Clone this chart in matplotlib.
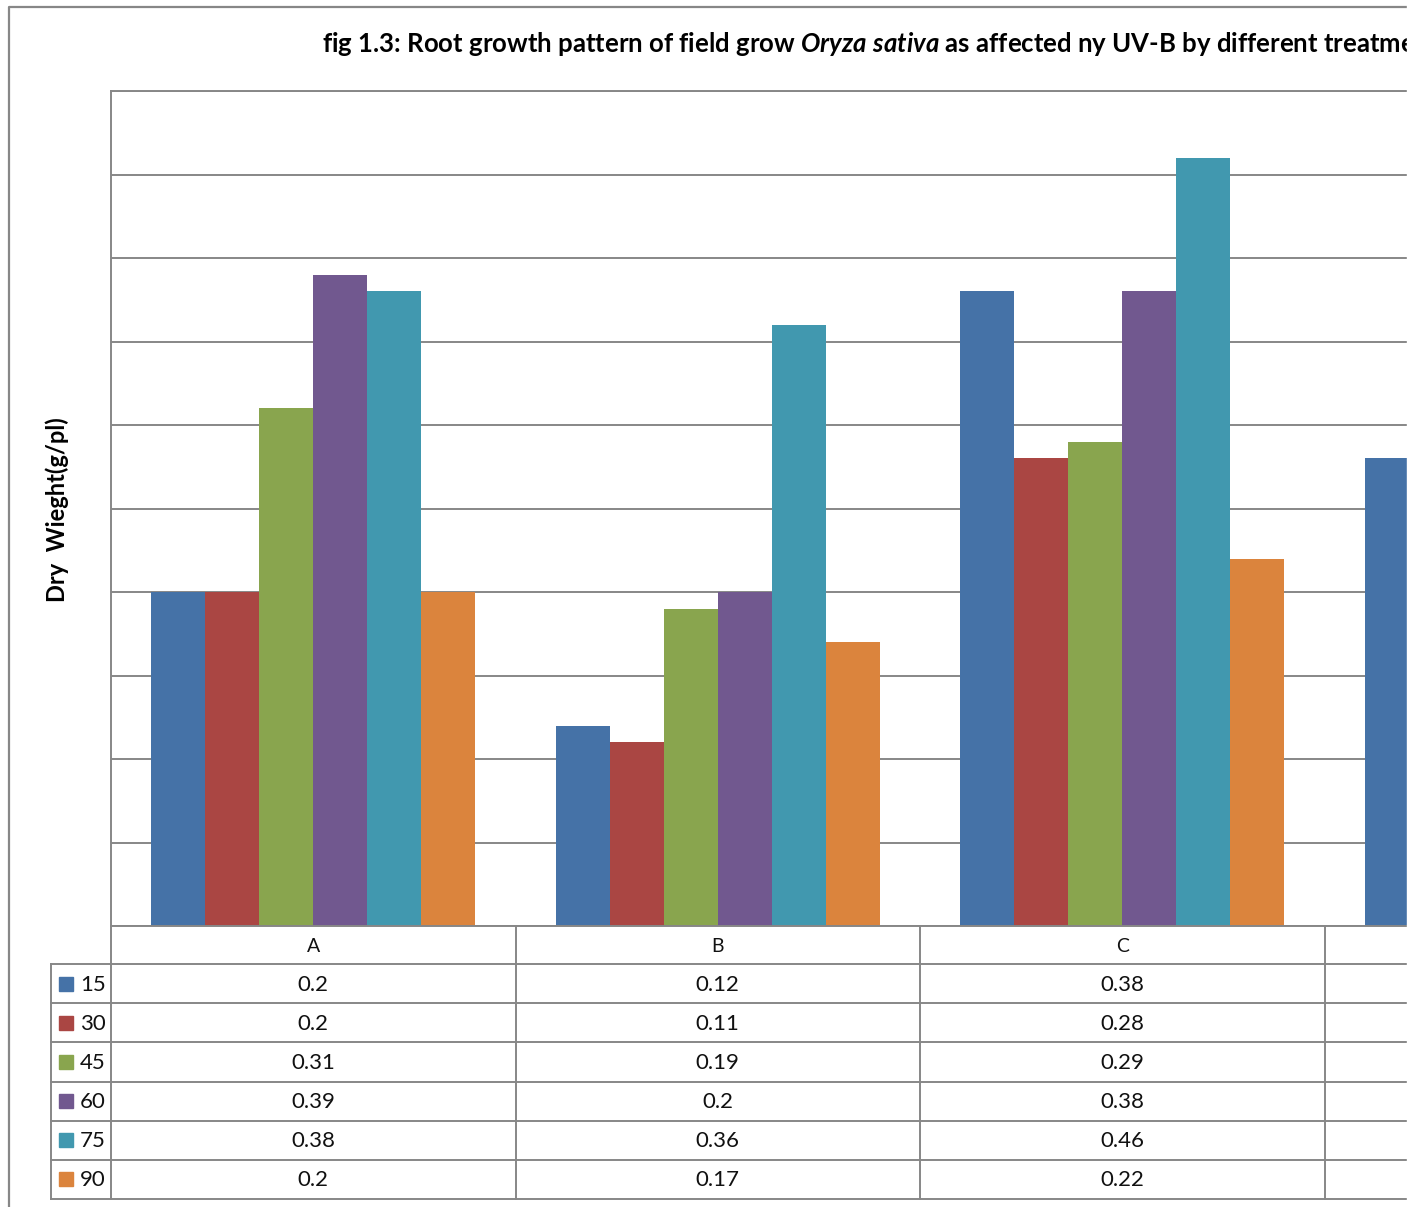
import numpy as np
import matplotlib
matplotlib.use("Agg")
import matplotlib.pyplot as plt
from matplotlib.patches import Rectangle

plt.rcParams['font.family'] = 'sans-serif'
plt.rcParams['font.sans-serif'] = ['Lato', 'DejaVu Sans']
plt.rcParams['mathtext.fontset'] = 'custom'
plt.rcParams['mathtext.rm'] = 'sans:bold'
plt.rcParams['mathtext.bfit'] = 'sans:italic:bold'

# dry weight of roots (g/plant) per treatment, one list per UV-B dose
categories = ["A", "B", "C", "D"]
doses = ["15", "30", "45", "60", "75", "90"]
dw_15 = [0.2, 0.12, 0.38, 0.28]
dw_30 = [0.2, 0.11, 0.28, np.nan]
dw_45 = [0.31, 0.19, 0.29, np.nan]
dw_60 = [0.39, 0.2, 0.38, np.nan]
dw_75 = [0.38, 0.36, 0.46, np.nan]
dw_90 = [0.2, 0.17, 0.22, np.nan]
series = [dw_15, dw_30, dw_45, dw_60, dw_75, dw_90]
colors = ["#4572A7", "#AA4643", "#89A54E", "#71588F", "#4198AF", "#DB843D"]

# only the first three treatment columns fit on the sheet
shown = 3

GRID = "#878787"
TXT = "#111111"
W, H = 1416, 1207
fig = plt.figure(figsize=(W / 100, H / 100), dpi=100)


def fx(px):
    return px / W


def fy(py):
    return 1 - py / H


# plot area runs on past the right edge of the sheet
cat_px = 404.5
left_px, top_px, bot_px = 111, 91, 926
ax = fig.add_axes([fx(left_px), fy(bot_px), fx(cat_px * len(categories)),
                   (bot_px - top_px) / H])
x = np.arange(len(categories))
bw = 54 / cat_px
for j, vals in enumerate(series):
    ax.bar(x + (j - 2.5) * bw, vals, bw, color=colors[j], linewidth=0,
           align='center')

ax.set_xlim(-0.5, len(categories) - 0.5)
ax.set_ylim(0, 0.5)
ax.set_yticks(np.arange(0, 0.501, 0.05))
ax.yaxis.grid(True, color=GRID, linewidth=1.4)
ax.set_axisbelow(True)
ax.tick_params(length=0, labelleft=False, labelbottom=False)
for side in ["left", "bottom", "top"]:
    ax.spines[side].set_color(GRID)
    ax.spines[side].set_linewidth(1.4)
ax.spines["right"].set_visible(False)

# data table under the bars, sharing the category axis
tab = fig.add_axes([fx(left_px), 0, fx(cat_px * len(categories)), 1], sharex=ax)
tab.set_ylim(H, 0)
tab.axis('off')
tab.patch.set_visible(False)

lead = 60 / cat_px
col_left = -0.5 - lead
rows = np.linspace(964, 1199, len(doses) + 1)
head_mid = (bot_px + rows[0]) / 2
lw = 1.4
for k in range(len(categories) + 1):
    tab.plot([k - 0.5, k - 0.5], [bot_px, rows[-1]], color=GRID, lw=lw,
             clip_on=False)
tab.plot([col_left, col_left], [rows[0], rows[-1]], color=GRID, lw=lw,
         clip_on=False)
for r in rows:
    tab.plot([col_left, len(categories) - 0.5], [r, r], color=GRID, lw=lw,
             clip_on=False)

for i, c in enumerate(categories[:shown]):
    tab.text(i, head_mid + 1, c, ha='center', va='center', fontsize=14,
             color=TXT)

sq = 14
for j, (d, vals) in enumerate(zip(doses, series)):
    mid = (rows[j] + rows[j + 1]) / 2 + 1
    tab.add_patch(Rectangle((col_left + 8 / cat_px, mid - 1 - sq / 2),
                            sq / cat_px, sq, color=colors[j], clip_on=False))
    tab.text(col_left + 29 / cat_px, mid, d, ha='left', va='center',
             fontsize=16, color=TXT)
    for i, v in enumerate(vals[:shown]):
        tab.text(i, mid, f"{v:g}", ha='center', va='center', fontsize=16,
                 color=TXT)

fig.text(fx(57), fy(510), "Dry  Wieght(g/pl)", rotation=90, ha='center',
         va='center', fontsize=17, weight='bold', color='#000000')

fig.text(fx(322), fy(52),
         r"fig 1.3: Root growth pattern of field grow $\mathbfit{Oryza\ sativa}$"
         r" as affected ny UV-B by different treatments",
         ha='left', va='baseline', fontsize=18.5, weight='bold', color='#000000')

# sheet border and the cropped right margin
frame = fig.add_axes([0, 0, 1, 1])
frame.set_xlim(0, W)
frame.set_ylim(H, 0)
frame.axis('off')
frame.patch.set_visible(False)
frame.set_zorder(10)
frame.plot([9, 9, W], [H, 7, 7], color=GRID, lw=1.6)
frame.add_patch(Rectangle((1407, 0), W - 1407, H, color='white', zorder=5))

fig.savefig("out.png", dpi=100)
